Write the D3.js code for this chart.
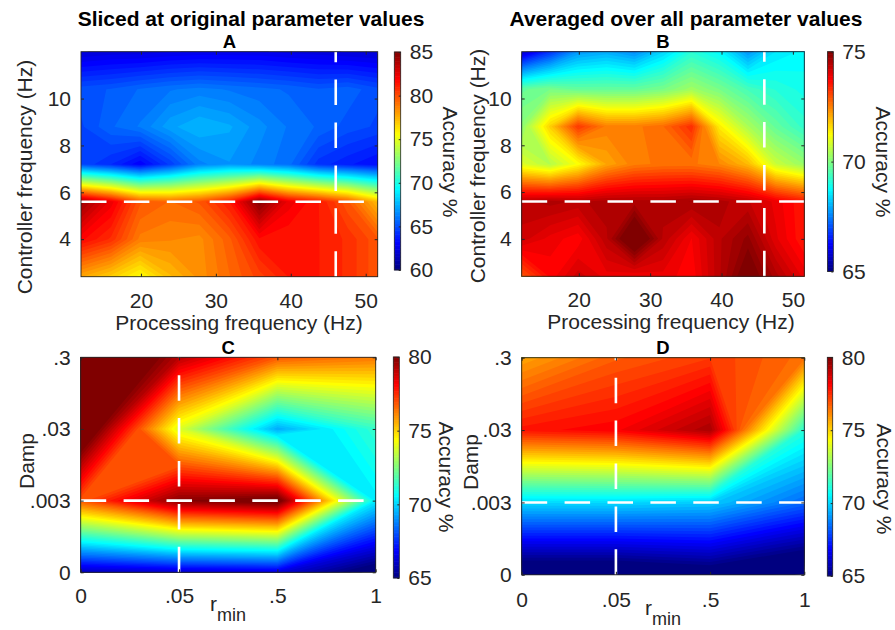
<!DOCTYPE html>
<html><head><meta charset="utf-8">
<script src="https://cdn.jsdelivr.net/npm/d3@7"></script>
<style>body{margin:0;background:#fff}</style>
</head><body>
<svg id="chart" width="895" height="630"></svg>
<script>
// ---------------- DATA ----------------
const procFreq = [12, 16, 19.9, 23.9, 27.8, 31.8, 35.8, 39.7, 43.7, 47.6, 51.6];
const ctrlFreq = [2.4, 4.0, 5.6, 7.2, 8.8, 10.4, 12.0];
// rows follow ctrlFreq (bottom to top), columns follow procFreq
const accSliced = [
  [78.0, 77.0, 75.8, 77.5, 78.5, 79.5, 80.5, 81.5, 81.5, 81.0, 80.0],
  [82.0, 81.0, 79.0, 78.8, 78.6, 79.8, 81.8, 81.5, 81.5, 81.0, 80.0],
  [84.5, 82.5, 80.0, 79.5, 80.0, 81.5, 85.0, 82.5, 81.5, 80.0, 77.5],
  [65.0, 64.3, 63.2, 64.8, 66.5, 67.0, 66.5, 66.0, 64.5, 64.0, 63.5],
  [65.0, 65.8, 66.3, 67.3, 67.8, 67.5, 66.8, 66.2, 65.8, 65.3, 65.0],
  [65.3, 65.5, 65.9, 66.2, 66.4, 66.2, 66.0, 65.8, 65.5, 65.7, 65.2],
  [62.3, 62.5, 62.5, 62.7, 62.8, 62.8, 62.8, 62.6, 62.5, 62.3, 62.2]
];
const accAveraged = [
  [73.0, 73.8, 74.3, 74.0, 73.9, 74.0, 73.8, 74.5, 75.3, 74.6, 74.0],
  [74.3, 74.0, 73.8, 74.5, 75.6, 74.5, 73.9, 74.5, 74.9, 74.1, 73.6],
  [74.5, 74.6, 74.5, 74.6, 74.6, 74.6, 74.7, 74.6, 74.4, 74.0, 73.6],
  [71.0, 70.6, 71.3, 72.2, 72.6, 72.7, 72.7, 72.5, 72.0, 70.8, 70.3],
  [70.2, 71.8, 73.3, 72.6, 72.6, 72.8, 73.4, 71.5, 70.5, 69.8, 69.3],
  [69.8, 70.0, 69.8, 69.8, 69.8, 70.0, 70.4, 70.0, 69.5, 69.2, 69.0],
  [65.8, 66.8, 67.8, 68.0, 67.7, 68.4, 69.2, 68.8, 67.8, 68.6, 68.8]
];
const rminLabels = ["0", ".05", ".5", "1"];
const dampLabels = ["0", ".003", ".03", ".3"];
// rows follow dampLabels (bottom to top), columns follow rminLabels
const accRminSliced = [
  [66.0, 66.3, 66.5, 64.5],
  [77.0, 80.0, 80.6, 70.5],
  [81.5, 74.0, 69.5, 71.5],
  [83.0, 79.3, 77.0, 76.5]
];
const accRminAveraged = [
  [64.0, 64.0, 64.5, 63.5],
  [70.2, 70.2, 70.0, 68.5],
  [78.0, 78.3, 79.5, 71.3],
  [75.8, 76.9, 77.4, 76.6]
];
const origProc = 46, origCtrl = 5.6, origRmin = ".05", origDamp = ".003";
const procTicks = [20, 30, 40, 50];
const ctrlTicks = [4, 6, 8, 10];
const cbTicksA = [60, 65, 70, 75, 80, 85];
const cbTicksB = [65, 70, 75];
const cbTicksCD = [65, 70, 75, 80];

// ---------------- RENDER ----------------
const FONT = '"Liberation Sans", Arial, Helvetica, sans-serif';
const AX = "#262626";
const svg = d3.select("#chart");

function clamp01(v){ return Math.max(0, Math.min(1, v)); }
function jet(t){
  t = clamp01(t);
  const r = clamp01(1.5 - Math.abs(4*t - 3));
  const g = clamp01(1.5 - Math.abs(4*t - 2));
  const b = clamp01(1.5 - Math.abs(4*t - 1));
  return d3.rgb(r*255, g*255, b*255).formatHex();
}

const idx4 = [0, 1, 2, 3];
const panels = [
  {id:"A", values:accSliced, xs:procFreq, ys:ctrlFreq, xDomain:[12,51.6], yDomain:[2.4,12],
   box:[81,51.7,377.7,276.7], cRange:[60,85], cbTicks:cbTicksA, cb:[394.3,52,400.7,270],
   xTicks:procTicks, yTicks:ctrlTicks, xFmt:d3.format("d"), yFmt:d3.format("d"),
   vx:origProc, hy:origCtrl, xPad:16.4,
   title:"Sliced at original parameter values", titleX:251,
   xLabel:"Processing frequency (Hz)", xLabelX:239, xLabelY:330,
   yLabel:"Controller frequency (Hz)", yLabelX:32, yLabelY:177,
   cbLabelX:443, cbLabelY:162},
  {id:"B", values:accAveraged, xs:procFreq, ys:ctrlFreq, xDomain:[12,51.6], yDomain:[2.4,12],
   box:[521.7,51.7,804.3,276.3], cRange:[65,75], cbTicks:cbTicksB, cb:[827.5,51.7,833.3,271.5],
   xTicks:procTicks, yTicks:ctrlTicks, xFmt:d3.format("d"), yFmt:d3.format("d"),
   vx:origProc, hy:origCtrl, xPad:16.2,
   title:"Averaged over all parameter values", titleX:686,
   xLabel:"Processing frequency (Hz)", xLabelX:671, xLabelY:329,
   yLabel:"Controller frequency (Hz)", yLabelX:485, yLabelY:166,
   cbLabelX:876, cbLabelY:162},
  {id:"C", values:accRminSliced, xs:idx4, ys:idx4, xDomain:[0,3], yDomain:[0,3],
   box:[80.7,357.3,375.7,572.3], cRange:[65,80], cbTicks:cbTicksCD, cb:[393.3,357,399.3,578],
   xTicks:idx4, yTicks:idx4, xFmt:i => rminLabels[i], yFmt:i => dampLabels[i],
   vx:rminLabels.indexOf(origRmin), hy:dampLabels.indexOf(origDamp), xPad:15.8,
   xLabelX:228, xLabelY:611,
   yLabel:"Damp", yLabelX:34, yLabelY:461,
   cbLabelX:439, cbLabelY:477},
  {id:"D", values:accRminAveraged, xs:idx4, ys:idx4, xDomain:[0,3], yDomain:[0,3],
   box:[521.7,357.7,804.3,574.8], cRange:[65,80], cbTicks:cbTicksCD, cb:[827.3,357.3,832.7,576],
   xTicks:idx4, yTicks:idx4, xFmt:i => rminLabels[i], yFmt:i => dampLabels[i],
   vx:rminLabels.indexOf(origRmin), hy:dampLabels.indexOf(origDamp), xPad:16.8,
   xLabelX:663, xLabelY:615,
   yLabel:"Damp", yLabelX:478, yLabelY:462,
   cbLabelX:877, cbLabelY:479}
];

const defs = svg.append("defs");

panels.forEach(p => {
  const [x0, y0, x1, y1] = p.box;
  const x = d3.scaleLinear().domain(p.xDomain).range([x0, x1]);
  const y = d3.scaleLinear().domain(p.yDomain).range([y1, y0]);
  const nx = p.xs.length, ny = p.ys.length;
  const ix = d3.scaleLinear().domain(d3.range(nx)).range(p.xs);
  const iy = d3.scaleLinear().domain(d3.range(ny)).range(p.ys);
  const flat = p.values.flat();
  const [c0, c1] = p.cRange;
  const step = (c1 - c0) / 64;
  const lo = d3.min(flat), hi = d3.max(flat);
  const th = [];
  for (let t = c0 + Math.floor((lo - c0) / step) * step; t <= hi; t += step) th.push(t);
  const conts = d3.contours().size([nx, ny]).thresholds(th)(flat);
  const proj = d3.geoTransform({
    point: function(px, py){ this.stream.point(x(ix(px - 0.5)), y(iy(py - 0.5))); }
  });
  const path = d3.geoPath(proj);

  defs.append("clipPath").attr("id", "clip" + p.id)
    .append("rect").attr("x", x0).attr("y", y0).attr("width", x1 - x0).attr("height", y1 - y0);

  const g = svg.append("g");
  g.append("g").attr("clip-path", `url(#clip${p.id})`)
    .selectAll("path").data(conts).join("path")
    .attr("d", path)
    .attr("fill", d => jet((d.value - c0) / (c1 - c0)))
    .attr("stroke", "none");

  // dashed lines at original parameter values
  const dash = g.append("g").attr("stroke", "#fff").attr("stroke-width", 2.6)
    .attr("stroke-dasharray", "25.5,17.4").attr("fill", "none");
  dash.append("line").attr("x1", x0).attr("x2", x1).attr("y1", y(p.hy)).attr("y2", y(p.hy));
  dash.append("line").attr("x1", x(p.vx)).attr("x2", x(p.vx)).attr("y1", y1).attr("y2", y0);

  // frame
  g.append("rect").attr("x", x0).attr("y", y0).attr("width", x1 - x0).attr("height", y1 - y0)
    .attr("fill", "none").attr("stroke", AX).attr("stroke-width", 0.9);

  const styleAxis = sel => {
    sel.attr("font-size", 21).attr("font-family", FONT);
    sel.select(".domain").remove();
    sel.selectAll("line").attr("stroke", AX);
    sel.selectAll("text").attr("fill", AX);
  };
  g.append("g").attr("transform", `translate(0,${y1})`)
    .call(d3.axisBottom(x).tickValues(p.xTicks).tickFormat(p.xFmt).tickSize(-3).tickPadding(p.xPad))
    .call(styleAxis);
  g.append("g").attr("transform", `translate(0,${y0})`)
    .call(d3.axisTop(x).tickValues(p.xTicks).tickFormat("").tickSize(-3)).call(styleAxis);
  g.append("g").attr("transform", `translate(${x0},0)`)
    .call(d3.axisLeft(y).tickValues(p.yTicks).tickFormat(p.yFmt).tickSize(-3).tickPadding(10))
    .call(styleAxis);
  g.append("g").attr("transform", `translate(${x1},0)`)
    .call(d3.axisRight(y).tickValues(p.yTicks).tickFormat("").tickSize(-3)).call(styleAxis);

  // colorbar
  const [bx0, by0, bx1, by1] = p.cb;
  const cs = d3.scaleLinear().domain([c0, c1]).range([by1, by0]);
  const nb = 160;
  const cbv = d3.range(nb).map(i => c0 + (i + 0.5) * (c1 - c0) / nb);
  g.append("g").selectAll("rect").data(cbv).join("rect")
    .attr("x", bx0).attr("width", bx1 - bx0)
    .attr("y", d => cs(d + 0.5 * (c1 - c0) / nb) - 0.3)
    .attr("height", Math.abs(cs(c0) - cs(c0 + (c1 - c0) / nb)) + 0.6)
    .attr("fill", d => jet((d - c0) / (c1 - c0)));
  g.append("rect").attr("x", bx0).attr("y", by0).attr("width", bx1 - bx0).attr("height", by1 - by0)
    .attr("fill", "none").attr("stroke", AX).attr("stroke-width", 0.8);
  g.append("g").attr("transform", `translate(${bx1},0)`)
    .call(d3.axisRight(cs).tickValues(p.cbTicks).tickFormat(d3.format("d")).tickSize(-2).tickPadding(9))
    .call(styleAxis);
  g.append("text").attr("transform", `translate(${p.cbLabelX},${p.cbLabelY}) rotate(90)`)
    .attr("text-anchor", "middle").attr("font-family", FONT).attr("font-size", 21)
    .attr("fill", AX).text("Accuracy %");

  // labels
  if (p.title) {
    g.append("text").attr("x", p.titleX).attr("y", 26).attr("text-anchor", "middle")
      .attr("font-family", FONT).attr("font-weight", "bold").attr("font-size", 21)
      .attr("fill", "#000").text(p.title);
  }
  g.append("text").attr("x", (x0 + x1) / 2).attr("y", y0 - 3.5).attr("text-anchor", "middle")
    .attr("font-family", FONT).attr("font-weight", "bold").attr("font-size", 18.5)
    .attr("fill", "#000").text(p.id);
  g.append("text").attr("transform", `translate(${p.yLabelX},${p.yLabelY}) rotate(-90)`)
    .attr("text-anchor", "middle").attr("font-family", FONT).attr("font-size", 21)
    .attr("fill", AX).text(p.yLabel);
  if (p.xLabel) {
    g.append("text").attr("x", p.xLabelX).attr("y", p.xLabelY).attr("text-anchor", "middle")
      .attr("font-family", FONT).attr("font-size", 21).attr("fill", AX).text(p.xLabel);
  } else {
    const t = g.append("text").attr("x", p.xLabelX).attr("y", p.xLabelY).attr("text-anchor", "middle")
      .attr("font-family", FONT).attr("font-size", 21).attr("fill", AX);
    t.append("tspan").text("r");
    t.append("tspan").attr("font-size", 18).attr("dy", 10).text("min");
  }
});
</script>
</body></html>
